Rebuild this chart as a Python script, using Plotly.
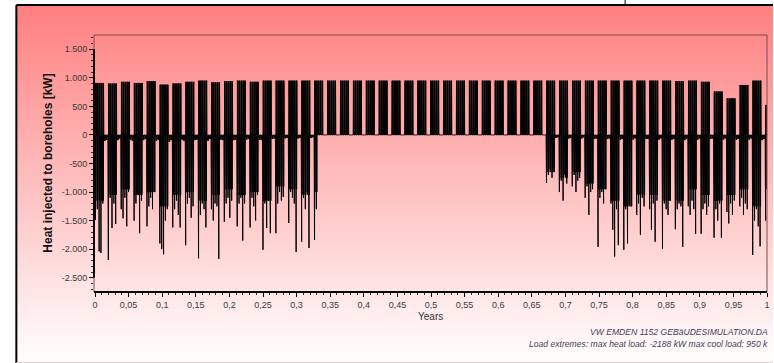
import plotly.graph_objects as go

# ---------------------------------------------------------------------------
# Borehole load profile, one year (x in years). Day 0 is a Monday.
# Daily heating peaks (kW, negative) per week, Monday..Sunday.
# ---------------------------------------------------------------------------
heat_winter_spring = [
    [-1490, -1300, -2040, -2065, -1200, -100, -80],
    [-2188, -1100, -1630, -1200, -1560, -90, -60],
    [-1300, -1460, -1100, -1600, -1000, -80, -100],
    [-1500, -1200, -1050, -1720, -1150, -90, -70],
    [-1600, -1250, -1100, -1300, -1000, -100, -80],
    [-1900, -2000, -2090, -1500, -1300, -120, -90],
    [-1620, -1300, -1150, -1400, -1620, -80, -100],
    [-1930, -1200, -1100, -1450, -1250, -90, -80],
    [-2160, -1400, -1200, -1300, -1620, -100, -70],
    [-1300, -1500, -1200, -1250, -2170, -80, -90],
    [-1520, -1200, -1100, -1450, -1150, -90, -80],
    [-1600, -1200, -1100, -1850, -1200, -80, -70],
    [-1620, -1100, -1250, -1500, -1050, -80, -90],
    [-2010, -1200, -1630, -1150, -1720, -70, -60],
    [-1720, -1200, -1000, -1150, -1085, -60, -50],
    [-1540, -1000, -1100, -1200, -2050, -60, -50],
    [-1870, -1100, -1300, -1000, -1980, -50, -40],
    [-1840, -1300, 0, 0, 0, 0, 0],
]
summer_weeks = 17  # weeks without any heating demand
heat_autumn_winter = [
    [-840, -700, -600, -750, -650, -50, -40],
    [-1000, -800, -1150, -700, -850, -60, -50],
    [-900, -700, -1000, -800, -750, -60, -40],
    [-1100, -900, -1400, -1000, -950, -70, -60],
    [-1960, -1100, -1000, -1200, -950, -70, -60],
    [-1200, -1660, -2130, -1300, -1930, -80, -70],
    [-2010, -1300, -1900, -1200, -1250, -80, -60],
    [-1400, -1200, -1750, -1100, -1250, -70, -70],
    [-1300, -1660, -1200, -1870, -1150, -80, -60],
    [-1990, -1200, -1300, -1400, -1150, -80, -70],
    [-1650, -1300, -1200, -1250, -1960, -90, -70],
    [-1250, -1400, -1150, -1300, -1730, -80, -60],
    [-1730, -1300, -1200, -1400, -1250, -70, -60],
    [-1800, -1300, -1500, -1200, -1800, -80, -60],
    [-1350, -1550, -1200, -1400, -1150, -80, -70],
    [-1250, -1100, -1400, -1200, -1300, -80, -60],
    [-2100, -1500, -1300, -1600, -1950, -90, -70],
    [-1500],
]
# Typical afternoon heating level on working days (kW) for each week
heat_afternoon = (
    [-1150, -1050, -950, -1050, -1000, -1250, -1050, -1000, -1150, -1050, -950, -1050,
     -1000, -1150, -900, -950, -1050, -1000]
    + [0] * summer_weeks
    + [-650, -750, -650, -850, -950, -1150, -1250, -1050, -1050, -1150, -1150, -950,
       -1050, -1150, -1050, -950, -1250, -950]
)
# Weekday cooling peak (kW) for each of the 53 weeks; weekends are 0
cool_weekday = (
    [910, 900, 930, 910, 940, 880, 900, 930, 950, 920, 940, 950, 930, 950, 950, 950, 950, 950]
    + [950] * summer_weeks
    + [950, 950, 950, 950, 950, 950, 950, 950, 950, 950, 940, 950, 930, 760, 640, 875, 950, 525]
)
# Points in time within a day: night, morning heating, cooling, afternoon heating,
# cooling, night
day_phase = [0.0, 0.24, 0.37, 0.50, 0.63, 0.80]

y_tick_vals = [1500, 1000, 500, 0, -500, -1000, -1500, -2000, -2500]
y_tick_text = ["1.500", "1.000", "500", "0", "-500", "-1.000", "-1.500", "-2.000", "-2.500"]
x_tick_vals = [i / 20 for i in range(21)]
x_tick_text = ["0", "0,05", "0,1", "0,15", "0,2", "0,25", "0,3", "0,35", "0,4", "0,45", "0,5",
               "0,55", "0,6", "0,65", "0,7", "0,75", "0,8", "0,85", "0,9", "0,95", "1"]
y_range = [-2750, 1750]
x_range = [-0.0015, 1.0]

# ---------------------------------------------------------------------------
heat_weeks = heat_winter_spring + [[0] * 7] * summer_weeks + heat_autumn_winter
xs, ys = [], []
for d in range(365):
    w, wd = divmod(d, 7)
    h = heat_weeks[w][wd]
    if wd < 5:
        c = cool_weekday[w]
        m = heat_afternoon[w] if h < 0 else 0
    else:
        c, m = 0, h
    for f, v in zip(day_phase, [0, h, c, m, c, 0]):
        xs.append((d + f) / 365.0)
        ys.append(v)

W, H = 774, 363
ML, MR, MT, MB = 94, 4, 35, 71
PW, PH = W - ML - MR, H - MT - MB


def px(x):
    return (x - ML) / PW


def py(y):
    return (H - MB - y) / PH


def vy(v):
    return (v - y_range[0]) / (y_range[1] - y_range[0])


fig = go.Figure()
fig.add_trace(go.Scatter(x=xs, y=ys, mode="lines",
                         line=dict(color="#000000", width=1, simplify=False),
                         hoverinfo="skip", showlegend=False))

shapes = []
# vertical background gradient inside the outer frame
top, bot = 5, 363
n = 179
for i in range(n):
    y0 = top + (bot - top) * i / n
    y1 = top + (bot - top) * (i + 1) / n
    t = (i + 0.5) / n
    g = int(round(127 + 128 * t))
    shapes.append(dict(type="rect", xref="paper", yref="paper", x0=px(16), x1=px(W + 2),
                       y0=py(y1), y1=py(y0), line=dict(width=0),
                       fillcolor=f"rgb(255,{g},{g})", layer="below"))
# outer frame
shapes.append(dict(type="line", xref="paper", yref="paper", x0=px(16), x1=px(W + 2),
                   y0=py(5), y1=py(5), line=dict(color="black", width=2)))
shapes.append(dict(type="line", xref="paper", yref="paper", x0=px(16), x1=px(16),
                   y0=py(5), y1=py(H + 2), line=dict(color="black", width=2)))
shapes.append(dict(type="line", xref="paper", yref="paper", x0=px(627.5), x1=px(627.5),
                   y0=py(-2), y1=py(5), line=dict(color="black", width=1)))
shapes.append(dict(type="line", xref="paper", yref="paper", x0=px(16), x1=px(W + 2),
                   y0=py(362.5), y1=py(362.5), line=dict(color="#d8d0d0", width=1)))
# plot frame
shapes.append(dict(type="rect", xref="paper", yref="paper", x0=0, x1=1, y0=0, y1=1,
                   line=dict(color="#7a4c4c", width=1)))
# axis lines
shapes.append(dict(type="line", xref="paper", yref="paper", x0=0, x1=0,
                   y0=vy(y_tick_vals[-1]), y1=vy(y_tick_vals[0]),
                   line=dict(color="black", width=2)))
shapes.append(dict(type="line", xref="paper", yref="paper", x0=0, x1=1, y0=0, y1=0,
                   line=dict(color="black", width=2)))

tick_font = dict(family="Liberation Sans, Arial, sans-serif", size=9, color="#3a3a3a")
note_font = dict(family="Liberation Sans, Arial, sans-serif", size=8.6, color="#463c5a")
annotations = [
    dict(text="<b>Heat injected to boreholes [kW]</b>", xref="paper", yref="paper",
         x=px(47), y=0.5, textangle=-90, showarrow=False, xanchor="center", yanchor="middle",
         font=dict(family="Liberation Sans, Arial, sans-serif", size=12, color="#111111")),
    dict(text="Years", xref="paper", yref="paper", x=0.5, y=py(316), showarrow=False,
         xanchor="center", yanchor="middle",
         font=dict(family="Liberation Sans, Arial, sans-serif", size=10, color="#333333")),
    dict(text="<i>VW EMDEN 1152 GEBäUDESIMULATION.DA</i>", xref="paper", yref="paper",
         x=px(773), y=py(332), showarrow=False, xanchor="right", yanchor="middle",
         font=note_font),
    dict(text="<i>Load extremes: max heat load: -2188 kW max cool load: 950 k</i>",
         xref="paper", yref="paper", x=px(773), y=py(344), showarrow=False,
         xanchor="right", yanchor="middle", font=note_font),
]

fig.update_layout(
    width=W, height=H, autosize=False,
    margin=dict(l=ML, r=MR, t=MT, b=MB, pad=0),
    paper_bgcolor="white", plot_bgcolor="rgba(0,0,0,0)",
    shapes=shapes, annotations=annotations, showlegend=False,
    xaxis=dict(range=x_range, tickmode="array", tickvals=x_tick_vals, ticktext=x_tick_text,
               ticks="outside", ticklen=4, tickcolor="black", tickwidth=1,
               showgrid=False, zeroline=False, showline=False, tickfont=tick_font,
               minor=dict(tickmode="linear", tick0=0, dtick=0.01, ticks="outside",
                          ticklen=2, tickcolor="#333333", showgrid=False)),
    yaxis=dict(range=y_range, tickmode="array", tickvals=y_tick_vals, ticktext=y_tick_text,
               ticks="outside", ticklen=4, tickcolor="black", tickwidth=1,
               showgrid=False, zeroline=False, showline=False, tickfont=tick_font,
               minor=dict(tickmode="linear", tick0=0, dtick=100, ticks="outside",
                          ticklen=2, tickcolor="#333333", showgrid=False)),
)

fig.write_html("out.html")
